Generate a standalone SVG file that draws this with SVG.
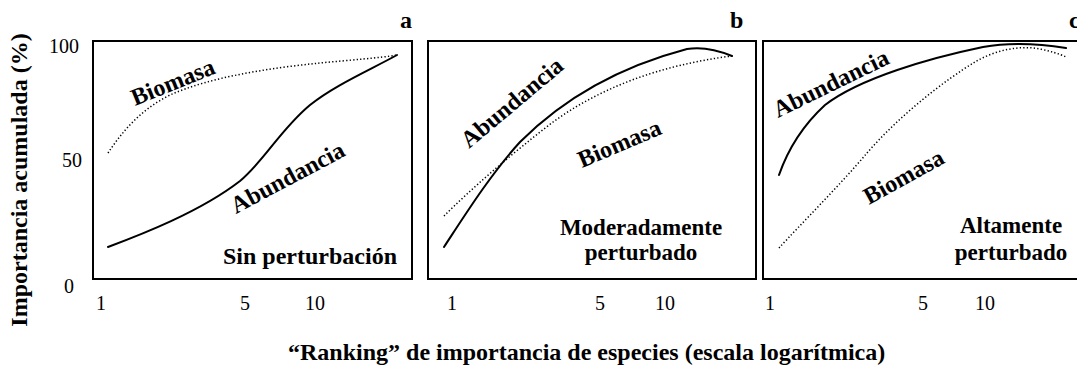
<svg xmlns="http://www.w3.org/2000/svg" width="1077" height="366" viewBox="0 0 1077 366">
<style>
  .frame { fill: #ffffff; stroke: #000000; stroke-width: 2; }
  .solid { fill: none; stroke: #000000; stroke-width: 2; stroke-linecap: round; stroke-linejoin: round; }
  .dotted { fill: none; stroke: #000000; stroke-width: 1.5; stroke-dasharray: 1.3 2.2; }
  .tick { font-family: "Liberation Serif", "Times New Roman", serif; font-size: 20px; fill: #000000; }
  .lbl { font-family: "Liberation Serif", "Times New Roman", serif; font-size: 24px; font-weight: bold; fill: #000000; }
  .two { font-size: 23px; }
  .mid { text-anchor: middle; }
  .end { text-anchor: end; }
</style>
<rect width="1077" height="366" fill="#ffffff"/>

<g id="axes-labels">
  <text class="lbl mid" transform="translate(27,180) rotate(-90)">Importancia acumulada (%)</text>
  <text class="lbl" x="288" y="360">“Ranking” de importancia de especies (escala logarítmica)</text>
  <text class="tick" x="49" y="53">100</text>
  <text class="tick" x="62" y="167">50</text>
  <text class="tick" x="64" y="293">0</text>
</g>

<g id="panel-a">
  <rect class="frame" x="93" y="41" width="319" height="238"/>
  <text class="lbl" x="400" y="28">a</text>
  <text class="tick mid" x="101" y="310">1</text>
  <text class="tick mid" x="245" y="310">5</text>
  <text class="tick mid" x="315" y="310">10</text>
  <path class="dotted" d="M108,153 C122,132 140,110 170,95 C210,77 270,68 320,63 C350,60 380,58 397,55"/>
  <path class="solid" d="M108,247 C140,235 200,212 240,181 C265,160 280,130 310,105 C335,85 370,70 397,55"/>
  <text class="lbl" transform="translate(135,106) rotate(-22)">Biomasa</text>
  <text class="lbl" transform="translate(236,214) rotate(-28)">Abundancia</text>
  <text class="lbl end" x="397" y="264">Sin perturbación</text>
</g>

<g id="panel-b">
  <rect class="frame" x="428" y="41" width="328" height="238"/>
  <text class="lbl" x="730" y="28">b</text>
  <text class="tick mid" x="452" y="310">1</text>
  <text class="tick mid" x="600" y="310">5</text>
  <text class="tick mid" x="665" y="310">10</text>
  <path class="dotted" d="M444,216 C470,190 510,155 553,122 C600,88 660,65 732,56"/>
  <path class="solid" d="M444,247 C465,215 490,175 520,142 C570,92 630,64 687,49 C705,46 720,51 732,56"/>
  <text class="lbl" transform="translate(469,149) rotate(-40)">Abundancia</text>
  <text class="lbl" transform="translate(582,168) rotate(-23)">Biomasa</text>
  <text class="lbl two mid" x="641" y="235">Moderadamente</text>
  <text class="lbl two mid" x="641" y="260">perturbado</text>
</g>

<g id="panel-c">
  <rect class="frame" x="763" y="41" width="330" height="238"/>
  <text class="lbl" x="1069" y="28">c</text>
  <text class="tick mid" x="770" y="310">1</text>
  <text class="tick mid" x="923" y="310">5</text>
  <text class="tick mid" x="985" y="310">10</text>
  <path class="dotted" d="M779,248 C800,225 840,185 867,153 C900,115 945,80 975,62 C995,50 1020,45 1040,49 C1050,51 1060,54 1066,57"/>
  <path class="solid" d="M779,175 C786,155 800,128 825,105 C860,78 930,58 983,47 C1005,43 1030,42 1066,48"/>
  <text class="lbl" transform="translate(778,118) rotate(-26)">Abundancia</text>
  <text class="lbl" transform="translate(869,205) rotate(-29)">Biomasa</text>
  <text class="lbl two mid" x="1011" y="233">Altamente</text>
  <text class="lbl two mid" x="1011" y="260">perturbado</text>
</g>

<g id="connectors"></g>
</svg>
